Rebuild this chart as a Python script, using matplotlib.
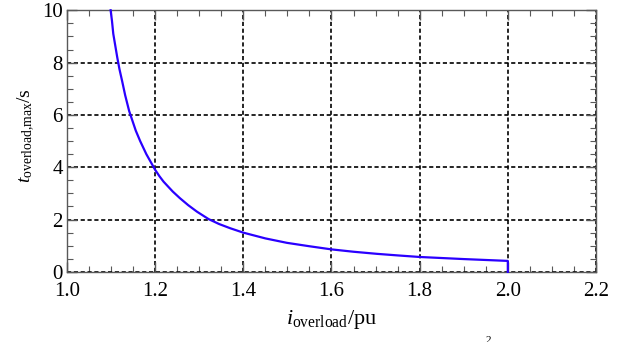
import matplotlib
matplotlib.use('Agg')
import matplotlib.pyplot as plt
from matplotlib.ticker import MultipleLocator

plt.rcParams['font.family'] = ['Liberation Serif', 'DejaVu Serif']
plt.rcParams['mathtext.fontset'] = 'custom'
plt.rcParams['mathtext.rm'] = 'Liberation Serif'
plt.rcParams['mathtext.it'] = 'Liberation Serif:italic'

# values
i_overload = [1.099, 1.102, 1.105, 1.109, 1.114, 1.119, 1.125, 1.132, 1.141, 1.148,
              1.156, 1.166, 1.18, 1.19, 1.2, 1.21, 1.219, 1.23, 1.24, 1.256,
              1.275, 1.295, 1.321, 1.345, 1.37, 1.4, 1.45, 1.499, 1.55, 1.6,
              1.65, 1.703, 1.75, 1.8, 1.9, 2.0, 2.0]
t_max = [10.0, 9.6, 9.1, 8.7, 8.2, 7.75, 7.3, 6.75, 6.15, 5.8,
         5.4, 5.0, 4.5, 4.2, 3.9, 3.65, 3.45, 3.25, 3.07, 2.82,
         2.55, 2.3, 2.02, 1.83, 1.67, 1.5, 1.28, 1.11, 0.98, 0.86,
         0.77, 0.69, 0.63, 0.57, 0.49, 0.42, 0.0]

x_ticks = [1.0, 1.2, 1.4, 1.6, 1.8, 2.0, 2.2]
y_ticks = [0, 2, 4, 6, 8, 10]

fig = plt.figure(figsize=(6.32, 3.42), dpi=100)
ax = fig.add_axes([0.106, 0.205, 0.837, 0.765])

ax.plot(i_overload, t_max, color='#2a00ff', lw=1.6, zorder=3, clip_on=False)

ax.set_xlim(1.0, 2.2)
ax.set_ylim(0, 10)
ax.set_xticks(x_ticks)
ax.set_yticks(y_ticks)
ax.set_xticklabels(['%.1f' % v for v in x_ticks])
ax.set_yticklabels([str(v) for v in y_ticks])
ax.xaxis.set_minor_locator(MultipleLocator(0.05))
ax.yaxis.set_minor_locator(MultipleLocator(0.5))

ax.grid(True, which='major', color='black', linestyle=(0, (2.5, 1.6)), lw=1.2)
ax.tick_params(which='both', direction='in', top=True, right=True,
               colors='0.35', labelcolor='black', labelsize=15)
ax.tick_params(axis='x', pad=7.5)
ax.tick_params(axis='y', pad=3)
ax.tick_params(which='major', length=7, width=1)
ax.tick_params(which='minor', length=4, width=0.8)
for s in ax.spines.values():
    s.set_color('0.35')
    s.set_linewidth(1)

ax.set_xlabel(r'$i_{\mathrm{overload}}$/pu', fontsize=16, labelpad=5)
ax.set_ylabel(r'$t_{\mathrm{overload{,}max}}$/s', fontsize=14)
ax.yaxis.set_label_coords(-0.056, 0.52)

# fragment of caption below the figure
fig.text(488 / 632, -3 / 342, '2', fontsize=8, ha='center', va='bottom')

fig.savefig('out.png', dpi=100)
